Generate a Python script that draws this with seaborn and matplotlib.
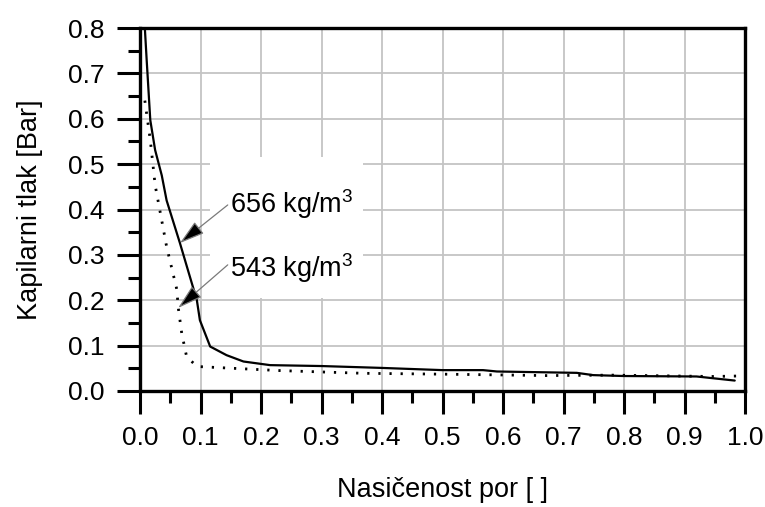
import numpy as np
import pandas as pd
import matplotlib
matplotlib.use("Agg")
import matplotlib.pyplot as plt
from matplotlib.patches import Rectangle
import seaborn as sns

# Capillary pressure curves for two densities
sat_656 = [0.008, 0.011, 0.017, 0.025, 0.036, 0.044, 0.066, 0.094, 0.099, 0.116,
           0.143, 0.171, 0.215, 0.30, 0.397, 0.50, 0.567, 0.59, 0.722, 0.749,
           0.80, 0.92, 0.983]
pc_656 = [0.80, 0.73, 0.597, 0.531, 0.475, 0.42, 0.326, 0.20, 0.156, 0.098,
          0.079, 0.065, 0.057, 0.055, 0.051, 0.046, 0.046, 0.043, 0.040, 0.035,
          0.033, 0.032, 0.023]

sat_543 = [0.008, 0.017, 0.025, 0.044, 0.061, 0.063, 0.069, 0.077, 0.094, 0.154,
           0.231, 0.369, 0.507, 0.672, 0.78, 0.947, 0.987]
pc_543 = [0.64, 0.553, 0.454, 0.318, 0.223, 0.186, 0.127, 0.076, 0.054, 0.050,
          0.045, 0.039, 0.037, 0.034, 0.035, 0.032, 0.033]

x_ticks = [0.0, 0.1, 0.2, 0.3, 0.4, 0.5, 0.6, 0.7, 0.8, 0.9, 1.0]
y_ticks = [0.0, 0.1, 0.2, 0.3, 0.4, 0.5, 0.6, 0.7, 0.8]
labels = ["656 kg/m$^{3}$", "543 kg/m$^{3}$"]

sns.set_theme(style="white")
plt.rcParams["font.family"] = ["Liberation Sans", "DejaVu Sans"]
plt.rcParams["mathtext.default"] = "regular"
plt.rcParams["text.color"] = "black"
plt.rcParams["axes.labelcolor"] = "black"
plt.rcParams["xtick.color"] = "black"
plt.rcParams["ytick.color"] = "black"

df_656 = pd.DataFrame({"sat": sat_656, "pc": pc_656})
df_543 = pd.DataFrame({"sat": sat_543, "pc": pc_543})

fig = plt.figure(figsize=(7.65, 5.07), dpi=100)
ax = fig.add_axes([140 / 765, 1 - 391 / 507, 605 / 765, 363 / 507])

sns.lineplot(data=df_656, x="sat", y="pc", ax=ax, sort=False, estimator=None,
             color="black", lw=1.6, zorder=3)
sns.lineplot(data=df_543, x="sat", y="pc", ax=ax, sort=False, estimator=None,
             color="black", lw=2.0, linestyle=(0, (0.8, 3.2)), zorder=3)

ax.set_xlim(0, 1.0)
ax.set_ylim(0, 0.8)
ax.set_xticks(x_ticks)
ax.set_yticks(y_ticks)
ax.set_xticklabels([f"{v:.1f}" for v in x_ticks])
ax.set_yticklabels([f"{v:.1f}" for v in y_ticks])
ax.set_xticks(np.arange(0.05, 1.0, 0.1), minor=True)
ax.set_yticks(np.arange(0.05, 0.8, 0.1), minor=True)

ax.grid(True, which="major", color="#c4c4c4", lw=1.3, zorder=0)
ax.set_axisbelow(True)

for s in ax.spines.values():
    s.set_linewidth(2.4)
    s.set_color("black")
    s.set_zorder(4)

ax.tick_params(which="major", direction="out", length=16.5, width=2.2,
               color="black", labelcolor="black", labelsize=19, pad=9,
               top=False, right=False, bottom=True, left=True)
ax.tick_params(which="minor", direction="out", length=8.5, width=2.2,
               color="black", top=False, right=False, bottom=True, left=True)

ax.set_xlabel("Nasičenost por [ ]", fontsize=19.5, labelpad=19, color="black")
ax.set_ylabel("Kapilarni tlak [Bar]", fontsize=19.5, labelpad=18, color="black")

# white backing behind the annotation labels
ax.add_patch(Rectangle((0.116, 0.205), 0.253, 0.311, facecolor="white",
                       edgecolor="none", zorder=1))

ax.text(0.149, 0.392, labels[0], fontsize=19.5, ha="left", va="baseline",
        color="black", zorder=5)
ax.text(0.149, 0.251, labels[1], fontsize=19.5, ha="left", va="baseline",
        color="black", zorder=5)

arrow = dict(arrowstyle="-|>,head_length=1.3,head_width=0.38", ec="#7a7a7a",
             fc="black", lw=0.9, shrinkA=0, shrinkB=0)
ax.annotate("", xy=(0.066, 0.326), xytext=(0.145, 0.41), arrowprops=arrow, zorder=5)
ax.annotate("", xy=(0.063, 0.183), xytext=(0.145, 0.278), arrowprops=arrow, zorder=5)

fig.savefig("out.png", dpi=100)
